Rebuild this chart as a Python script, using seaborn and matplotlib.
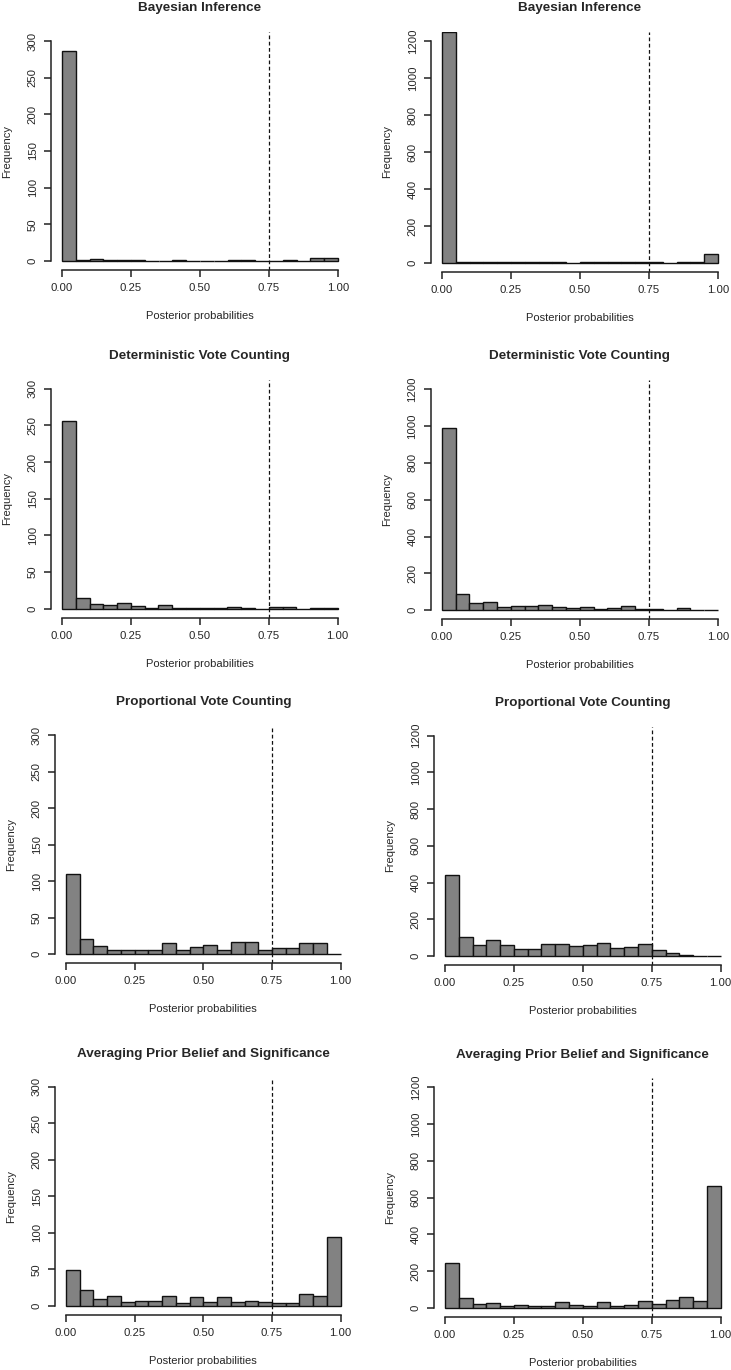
import numpy as np
import pandas as pd
import matplotlib
matplotlib.use("Agg")
import matplotlib.pyplot as plt
import seaborn as sns

# 20 bins of width 0.05 on [0, 1]
bin_edges = [round(0.05 * k, 2) for k in range(21)]
bin_mids = [round(0.05 * k + 0.025, 3) for k in range(20)]

row_titles = ["Bayesian Inference", "Deterministic Vote Counting",
              "Proportional Vote Counting", "Averaging Prior Belief and Significance"]

# counts per bin (left column: small set, right column: large set)
bayes_left = [286, 2, 3, 1, 2, 2, 0, 0, 2, 0, 0, 0, 2, 1, 0, 0, 2, 0, 4, 4]
bayes_right = [1250, 8, 6, 3, 3, 3, 3, 3, 3, 1, 3, 3, 3, 3, 3, 3, 0, 3, 8, 47]
determ_left = [256, 15, 6, 5, 8, 4, 1, 5, 1, 1, 1, 1, 2, 1, 0, 2, 2, 0, 1, 1]
determ_right = [989, 87, 38, 47, 16, 25, 25, 31, 20, 13, 16, 9, 12, 21, 5, 9, 2, 11, 4, 4]
prop_left = [110, 21, 11, 6, 6, 6, 6, 15, 6, 10, 13, 6, 17, 17, 6, 9, 9, 15, 16, 1]
prop_right = [441, 103, 62, 87, 62, 40, 40, 65, 65, 53, 58, 69, 45, 49, 63, 33, 15, 5, 2, 1]
avg_left = [49, 22, 9, 13, 5, 7, 7, 13, 4, 12, 6, 12, 6, 7, 6, 4, 4, 16, 14, 95]
avg_right = [245, 52, 20, 26, 11, 15, 11, 7, 31, 15, 7, 31, 11, 15, 37, 20, 44, 59, 35, 664]

panel_counts = [bayes_left, bayes_right, determ_left, determ_right,
                prop_left, prop_right, avg_left, avg_right]
y_max = [300, 1200]
y_step = [50, 200]
threshold = 0.75

# pixel positions of x=0, x=1, y=0 and top tick for each panel
W, H = 731, 1370
panel_px = [
    (62, 338, 261, 41), (442, 718, 263, 41),
    (62, 337.7, 608.7, 388.7), (441.7, 718, 610.3, 389),
    (66, 340.7, 954.3, 735), (445, 720.7, 956, 735.7),
    (66, 340.7, 1306, 1086.7), (445, 720.7, 1307.7, 1087.3),
]

sns.set_style("ticks")
plt.rcParams["font.family"] = ["Liberation Sans", "DejaVu Sans"]

fig = plt.figure(figsize=(W / 100, H / 100), dpi=100)

for i, counts in enumerate(panel_counts):
    col = i % 2
    row = i // 2
    x0, x1, yb, yt = panel_px[i]
    dx = 0.04 * (x1 - x0)
    dy = 0.04 * (yb - yt)
    left = (x0 - dx) / W
    right = (x1 + dx) / W
    top = (yt - dy) / H
    bottom = (yb + dy) / H
    ax = fig.add_axes([left, 1 - bottom, right - left, bottom - top])

    df = pd.DataFrame({"p": bin_mids, "n": counts})
    sns.histplot(data=df, x="p", weights="n", bins=bin_edges, color="#828282",
                 edgecolor="#111111", linewidth=1.0, alpha=1, ax=ax)
    ax.axvline(threshold, color="#111111", linestyle=(0, (3, 2)), linewidth=0.9)

    ym = y_max[col]
    ax.set_xlim(-0.04, 1.04)
    ax.set_ylim(-0.04 * ym, 1.04 * ym)
    ax.set_xticks([0, 0.25, 0.5, 0.75, 1.0])
    ax.set_xticklabels(["0.00", "0.25", "0.50", "0.75", "1.00"])
    ax.set_yticks(np.arange(0, ym + 1, y_step[col]))

    sns.despine(ax=ax)
    ax.spines["bottom"].set_bounds(0, 1)
    ax.spines["left"].set_bounds(0, ym)
    for s in ["bottom", "left"]:
        ax.spines[s].set_linewidth(1.1)
        ax.spines[s].set_color("#222222")

    ax.tick_params(axis="both", length=5, width=1.1, color="#222222",
                   labelsize=8.2, pad=4.5)
    ax.tick_params(axis="y", labelrotation=90)
    for lab in ax.get_yticklabels():
        lab.set_verticalalignment("center")

    ax.set_title(row_titles[row], fontsize=9.7, fontweight="bold", pad=15)
    ax.set_xlabel("Posterior probabilities", fontsize=8, labelpad=13)
    ax.set_ylabel("Frequency", fontsize=8, labelpad=11)

fig.savefig("out.png", dpi=100)
